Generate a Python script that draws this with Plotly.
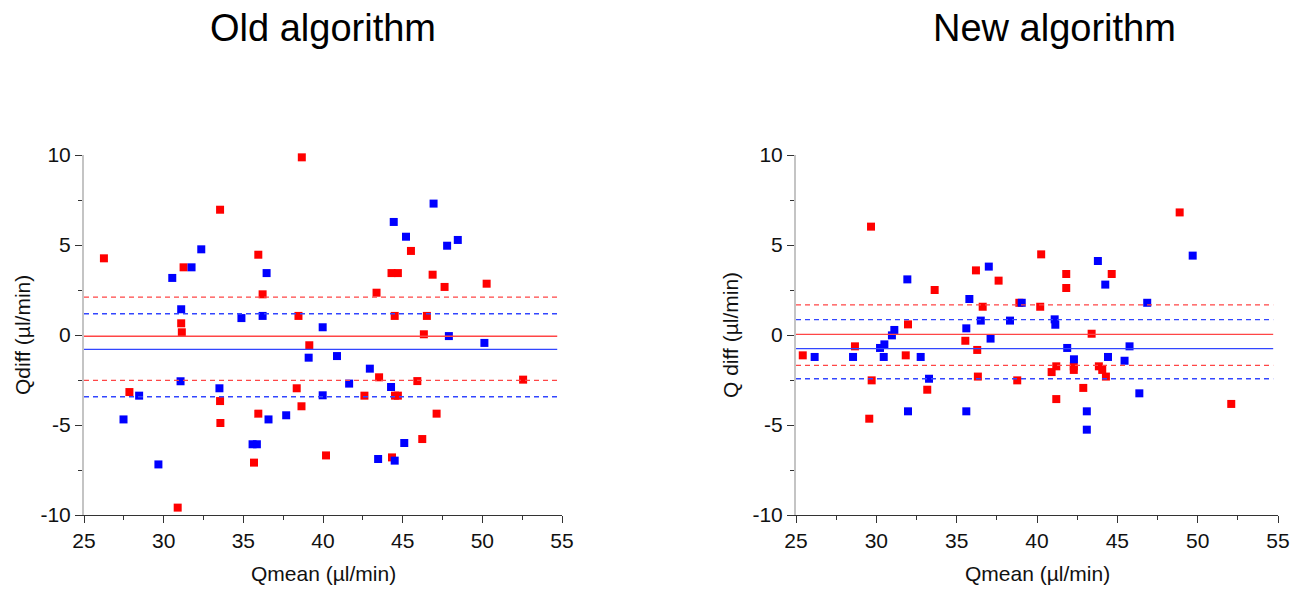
import plotly.graph_objects as go

# ---------------- data ----------------
old_red_x = [26.25, 38.67, 33.54, 31.25, 35.94, 36.21, 38.46, 31.1, 31.14, 44.3, 44.7, 45.52,
             46.88, 47.63, 50.27, 43.36, 44.5, 46.52, 46.33, 39.14, 27.85, 33.54, 33.56, 35.94,
             35.67, 38.35, 38.65, 40.19, 30.88, 43.52, 45.92, 52.56, 42.6, 44.52, 44.7, 47.13,
             46.23, 44.33]
old_red_y = [4.26, 9.87, 6.96, 3.76, 4.46, 2.26, 1.06, 0.65, 0.15, 3.44, 3.44, 4.67,
             3.35, 2.67, 2.85, 2.35, 1.06, 1.06, 0.04, -0.57, -3.17, -3.67, -4.89, -4.37,
             -7.09, -2.96, -3.96, -6.69, -9.59, -2.35, -2.56, -2.48, -3.37, -3.37, -3.37, -4.37,
             -5.78, -6.8]
old_blue_x = [32.36, 31.75, 30.54, 36.46, 31.1, 34.88, 36.21, 39.98, 46.94, 44.44, 45.21, 47.79,
              48.46, 47.9, 50.13, 39.1, 31.06, 28.46, 33.5, 27.48, 29.67, 35.58, 35.85, 36.58,
              37.69, 39.98, 40.88, 42.94, 41.64, 44.27, 45.1, 43.46, 44.5]
old_blue_y = [4.76, 3.76, 3.17, 3.44, 1.43, 0.94, 1.06, 0.43, 7.3, 6.28, 5.46, 4.96,
              5.28, -0.06, -0.44, -1.26, -2.57, -3.37, -2.96, -4.69, -7.19, -6.07, -6.07, -4.69,
              -4.46, -3.35, -1.17, -1.87, -2.7, -2.89, -6.0, -6.89, -6.98]

new_red_x = [29.67, 33.63, 36.2, 37.61, 36.62, 38.9, 31.97, 48.88, 40.26, 41.82, 44.65, 41.82,
             40.2, 43.4, 25.42, 28.67, 31.83, 29.71, 33.17, 29.56, 35.54, 36.28, 36.32, 38.77,
             41.2, 40.91, 42.29, 42.29, 43.85, 44.06, 44.29, 42.88, 41.2, 52.09]
new_red_y = [6.02, 2.5, 3.59, 3.02, 1.57, 1.79, 0.59, 6.81, 4.48, 3.39, 3.39, 2.61,
             1.57, 0.07, -1.13, -0.63, -1.13, -2.52, -3.04, -4.65, -0.32, -0.83, -2.31, -2.52,
             -1.74, -2.06, -1.74, -1.94, -1.74, -1.94, -2.31, -2.94, -3.56, -3.83]
new_blue_x = [31.93, 37.0, 35.79, 39.05, 36.5, 38.32, 35.6, 31.12, 30.97, 49.69, 43.79, 44.25,
              46.86, 41.1, 41.14, 26.16, 28.55, 30.23, 30.5, 30.46, 32.76, 33.28, 31.97, 35.6,
              37.11, 41.88, 45.76, 42.3, 44.42, 45.45, 46.37, 43.1, 43.1]
new_blue_y = [3.09, 3.8, 2.0, 1.79, 0.8, 0.8, 0.37, 0.28, -0.02, 4.41, 4.11, 2.8,
              1.79, 0.87, 0.57, -1.22, -1.22, -0.72, -0.52, -1.22, -1.22, -2.43, -4.24, -4.24,
              -0.2, -0.72, -0.63, -1.35, -1.22, -1.43, -3.24, -4.24, -5.26]

# Bland-Altman lines: [upper limit, mean, lower limit]
old_red_lines = [2.1, -0.07, -2.52]
old_blue_lines = [1.18, -0.8, -3.43]
new_red_lines = [1.67, 0.04, -1.69]
new_blue_lines = [0.85, -0.76, -2.43]
line_x_range = [25, 54.7]

x_ticks = [25, 30, 35, 40, 45, 50, 55]
x_tick_labels = ["25", "30", "35", "40", "45", "50", "55"]
y_ticks = [-10, -5, 0, 5, 10]
y_tick_labels = ["-10", "-5", "0", "5", "10"]
titles = ["Old algorithm", "New algorithm"]
y_titles = ["Qdiff (\u00b5l/min)", "Q diff (\u00b5l/min)"]
x_title = "Qmean (\u00b5l/min)"

RED = "#ff0000"
BLUE = "#0000ff"
RED_L = "rgb(255,70,70)"
BLUE_L = "rgb(50,70,255)"
FONT = "Liberation Sans, Arial, sans-serif"

fig = go.Figure()

panels = [
    ("x", "y", old_red_x, old_red_y, old_blue_x, old_blue_y, old_red_lines, old_blue_lines),
    ("x2", "y2", new_red_x, new_red_y, new_blue_x, new_blue_y, new_red_lines, new_blue_lines),
]
for xa, ya, rx, ry, bx, by, rl, bl in panels:
    fig.add_trace(go.Scatter(x=rx, y=ry, mode="markers", xaxis=xa, yaxis=ya,
                             marker=dict(symbol="square", size=8, color=RED, line=dict(width=0)),
                             cliponaxis=False, showlegend=False))
    fig.add_trace(go.Scatter(x=bx, y=by, mode="markers", xaxis=xa, yaxis=ya,
                             marker=dict(symbol="square", size=8, color=BLUE, line=dict(width=0)),
                             cliponaxis=False, showlegend=False))
    for vals, col in ((rl, RED_L), (bl, BLUE_L)):
        for i, v in enumerate(vals):
            fig.add_trace(go.Scatter(x=line_x_range, y=[v, v], mode="lines", xaxis=xa, yaxis=ya,
                                     line=dict(color=col, width=1.3,
                                               dash="solid" if i == 1 else "5px,4px"),
                                     hoverinfo="skip", showlegend=False))

W, H = 1302, 590
x_doms = [[84 / W, 562 / W], [796 / W, 1278 / W]]
y_dom = [1 - 515 / H, 1 - 155 / H]

common_x = dict(range=[25, 55], tickvals=x_ticks, ticktext=x_tick_labels, ticks="outside",
                ticklen=7, tickwidth=1.2,
                tickcolor="#333", showline=True, linecolor="#333", linewidth=1.2,
                showgrid=False, zeroline=False, automargin=False,
                minor=dict(dtick=2.5, tick0=25, ticks="outside", ticklen=4, tickwidth=1.2, tickcolor="#333"),
                tickfont=dict(family=FONT, size=21, color="#111"))
common_y = dict(range=[-10, 10], tickvals=y_ticks, ticktext=y_tick_labels, ticks="outside",
                ticklen=7, tickwidth=1.2,
                tickcolor="#333", showline=True, linecolor="#c4c4c4", linewidth=2,
                showgrid=False, zeroline=False, automargin=False,
                minor=dict(dtick=2.5, tick0=-10, ticks="outside", ticklen=4, tickwidth=1.2, tickcolor="#333"),
                tickfont=dict(family=FONT, size=21, color="#111"))

fig.update_layout(
    width=W, height=H, margin=dict(l=0, r=0, t=0, b=0, autoexpand=False),
    paper_bgcolor="white", plot_bgcolor="white",
    xaxis=dict(domain=x_doms[0], anchor="y", **common_x),
    yaxis=dict(domain=y_dom, anchor="x", **common_y),
    xaxis2=dict(domain=x_doms[1], anchor="y2", **common_x),
    yaxis2=dict(domain=y_dom, anchor="x2", **common_y),
)

annos = []
title_cx = [323, 1054]
for i in range(2):
    annos.append(dict(text=titles[i], x=title_cx[i] / W, y=1 - 28 / H, xref="paper", yref="paper",
                      xanchor="center", yanchor="middle", showarrow=False,
                      font=dict(family=FONT, size=38, color="black")))
    cx = (x_doms[i][0] + x_doms[i][1]) / 2
    annos.append(dict(text=x_title, x=cx, y=1 - 573 / H, xref="paper", yref="paper",
                      xanchor="center", yanchor="middle", showarrow=False,
                      font=dict(family=FONT, size=21, color="#111")))
    ycx = [22, 730][i]
    annos.append(dict(text=y_titles[i], x=ycx / W, y=1 - 335 / H, xref="paper", yref="paper",
                      xanchor="center", yanchor="middle", showarrow=False, textangle=-90,
                      font=dict(family=FONT, size=21, color="#111")))
fig.update_layout(annotations=annos)

fig.write_html("out.html", config={"displayModeBar": False},
               post_script="document.body.style.margin='0';document.body.style.padding='0';"
                           "document.body.style.overflow='hidden';")
